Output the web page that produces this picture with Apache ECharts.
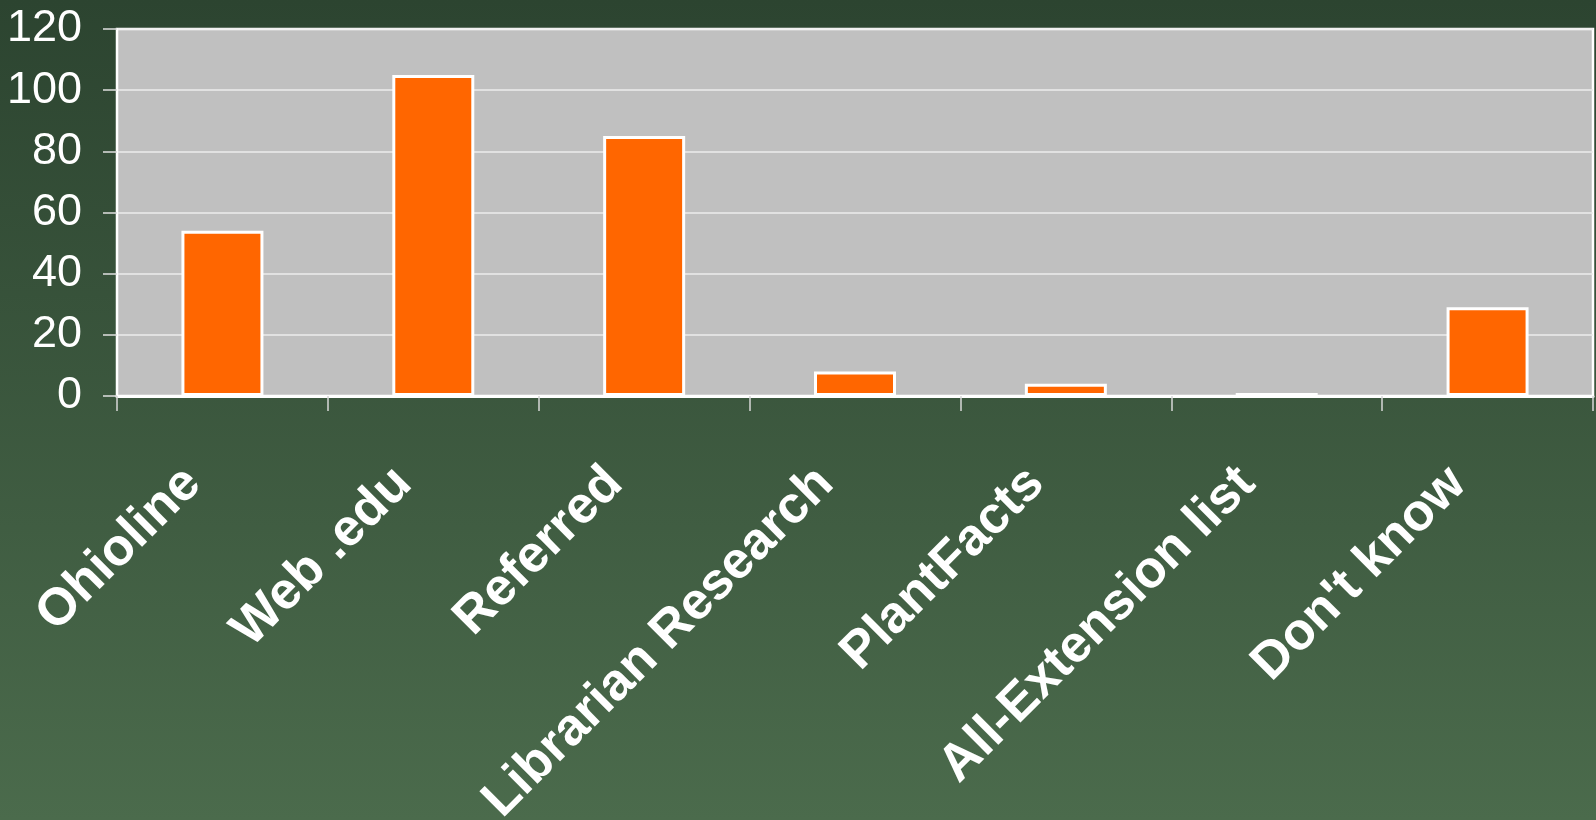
<!DOCTYPE html>
<html>
<head>
<meta charset="utf-8">
<style>
  html, body { margin: 0; padding: 0; }
  #chart { width: 1596px; height: 820px; }
</style>
<script src="https://cdn.jsdelivr.net/npm/echarts@6/dist/echarts.min.js"></script>
</head>
<body>
<div id="chart"></div>
<script>
var categories = ['Ohioline', 'Web .edu', 'Referred', 'Librarian Research', 'PlantFacts', 'All-Extension list', "Don't know"];
var counts = [54, 105, 85, 8, 4, 1, 29];
var yMin = 0, yMax = 120, yStep = 20;

var chart = echarts.init(document.getElementById('chart'), null, { renderer: 'canvas' });

chart.setOption({
  animation: false,
  backgroundColor: new echarts.graphic.LinearGradient(0, 0, 0, 1, [
    { offset: 0, color: '#2c4430' },
    { offset: 1, color: '#4b6b4c' }
  ]),
  textStyle: { fontFamily: "'Liberation Sans', Arial, sans-serif" },
  grid: {
    left: 117, top: 29, right: 3, bottom: 424,
    outerBoundsMode: 'none',
    containLabel: false,
    show: true,
    backgroundColor: '#c0c0c0',
    borderColor: '#ffffff',
    borderWidth: 2.5
  },
  xAxis: {
    type: 'category',
    data: categories,
    axisLine: { lineStyle: { color: '#ffffff', width: 3 } },
    axisTick: { show: true, length: 15, lineStyle: { color: '#d8d8d8', width: 1.5 } },
    axisLabel: {
      interval: 0,
      rotate: 45,
      margin: 50,
      color: '#ffffff',
      fontSize: 52,
      fontWeight: 'bold',
      padding: [0, 42, 0, 0]
    }
  },
  yAxis: {
    type: 'value',
    min: yMin, max: yMax, interval: yStep,
    axisLine: { show: true, lineStyle: { color: '#ffffff', width: 2 } },
    axisTick: { show: true, length: 14, lineStyle: { color: '#e0e0e0', width: 1.5 } },
    axisLabel: { color: '#ffffff', fontSize: 45, margin: 35 },
    splitLine: { lineStyle: { color: '#ececec', width: 1.5 } }
  },
  series: [{
    type: 'bar',
    data: counts,
    barWidth: 82,
    itemStyle: { color: '#ff6600', borderColor: '#ffffff', borderWidth: 3 }
  }]
});
</script>
</body>
</html>
